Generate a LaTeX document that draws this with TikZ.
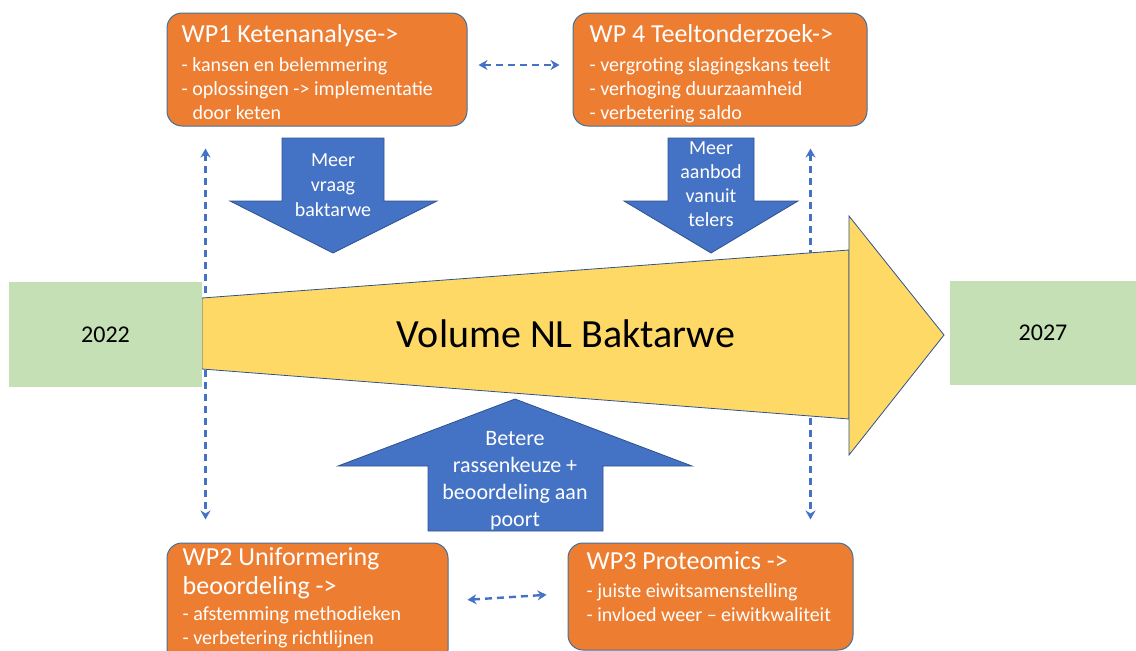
\documentclass[tikz,border=0pt]{standalone}
\usepackage{fontspec}
\setmainfont{Carlito}
\usepackage{tikz}
\usetikzlibrary{arrows.meta, positioning}
\usepackage{xcolor}
\definecolor{wporange}{HTML}{ED7D31}
\definecolor{wpline}{HTML}{41719C}
\definecolor{arrowblue}{HTML}{4472C4}
\definecolor{arrowline}{HTML}{2F528F}
\definecolor{volyellow}{HTML}{FFD966}
\definecolor{yeargreen}{HTML}{C5E0B4}

\begin{document}
\begin{tikzpicture}[
      x=1pt, y=-1pt,
      wpbox/.style={draw=wpline, line width=1pt, fill=wporange, rounded corners=15pt, inner sep=0pt},
      wptext/.style={anchor=north west, align=left, text=white, inner sep=0pt, font=\fontsize{20}{24}\selectfont},
      yearbox/.style={fill=yeargreen, inner sep=0pt, font=\fontsize{24}{28}\selectfont},
      bigarrow/.style={fill=arrowblue, draw=arrowline, line width=0.8pt},
      arrowtext/.style={align=center, text=white, inner sep=0pt, font=\fontsize{20}{25}\selectfont},
      volume/.style={fill=volyellow, draw=arrowline, line width=0.8pt},
      dashlink/.style={draw=arrowblue, line width=2.4pt, dash pattern=on 7pt off 5pt,
        {Stealth[length=9pt,width=10pt]}-{Stealth[length=9pt,width=10pt]}}
    ]
    \useasboundingbox (0,0) rectangle (1136,651);

    % Work packages
    \node[wpbox, minimum width=300, minimum height=113] (wp1) at (317,69.5) {};
    \node[wptext] (wp1txt) at ([shift={(15,12)}]wp1.north west)
      {{\fontsize{26}{30}\selectfont WP1 Ketenanalyse->}\\[5pt]
       - kansen en belemmering\\
       - oplossingen -> implementatie\\
       \hspace*{11pt}door keten};
    \node[wpbox, minimum width=294, minimum height=113] (wp4) at (720,69.5) {};
    \node[wptext] (wp4txt) at ([shift={(17,12)}]wp4.north west)
      {{\fontsize{26}{30}\selectfont WP 4 Teeltonderzoek->}\\[5pt]
       - vergroting slagingskans teelt\\
       - verhoging duurzaamheid\\
       - verbetering saldo};
    \node[wpbox, minimum width=281, minimum height=122] (wp2) at (307.5,604) {};
    \node[wptext] (wp2txt) at ([shift={(16,5)}]wp2.north west)
      {{\fontsize{26}{30}\selectfont WP2 Uniformering}\\[5pt]
       {\fontsize{26}{30}\selectfont beoordeling ->}\\[2pt]
       - afstemming methodieken\\
       - verbetering richtlijnen};
    \node[wpbox, minimum width=285, minimum height=107] (wp3) at (710.5,596.5) {};
    \node[wptext] (wp3txt) at ([shift={(19,9)}]wp3.north west)
      {{\fontsize{26}{30}\selectfont WP3 Proteomics ->}\\[4pt]
       - juiste eiwitsamenstelling\\
       - invloed weer – eiwitkwaliteit};

    % Links between work packages
    \draw[dashlink, shorten <=11pt, shorten >=13pt] ([yshift=4.5pt]wp1.east) -- ([yshift=4.5pt]wp4.west);
    \draw[dashlink, shorten <=19pt, shorten >=21pt] ([yshift=3pt]wp2.east) -- ([yshift=3pt]wp3.west);
    \draw[dashlink, shorten <=22pt, shorten >=23pt] ([xshift=39pt]wp1.south west) -- ([xshift=39pt]wp2.north west);
    \draw[dashlink, shorten <=22pt, shorten >=23pt] ([xshift=-57pt]wp4.south east) -- ([xshift=-43pt]wp3.north east);

    % Volume arrow
    \draw[volume] (202,298) -- (849,250) -- (849,419) -- (202,369) -- cycle;
    \draw[volume] (849,216) -- (944,335) -- (849,455) -- cycle;
    \node[anchor=base, inner sep=0pt, font=\fontsize{40}{46}\selectfont] (volume) at (566,347) {Volume NL Baktarwe};

    % Years
    \node[yearbox, minimum width=193, minimum height=105] (start) at (105.5,334.5) {2022};
    \node[yearbox, minimum width=186, minimum height=104] (end) at (1043,333) {2027};

    % Block arrows
    \draw[bigarrow] (282,138) -- (384,138) -- (384,201) -- (437,201) -- (333,253) -- (230,201) -- (282,201) -- cycle;
    \node[arrowtext] (demand) at (333,185) {Meer\\vraag\\baktarwe};
    \draw[bigarrow] (668,138) -- (754,138) -- (754,201) -- (798,201) -- (711,253) -- (624,201) -- (668,201) -- cycle;
    \node[arrowtext, font=\fontsize{20}{24}\selectfont] (supply) at (711,184) {Meer\\aanbod\\vanuit\\telers};
    \draw[bigarrow] (428,531) -- (603,531) -- (603,466) -- (692,466) -- (515,399) -- (338,466) -- (428,466) -- cycle;
    \node[arrowtext, font=\fontsize{22}{27}\selectfont] (choice) at (515,481) {Betere\\rassenkeuze +\\beoordeling aan\\poort};
  \end{tikzpicture}
\end{document}
